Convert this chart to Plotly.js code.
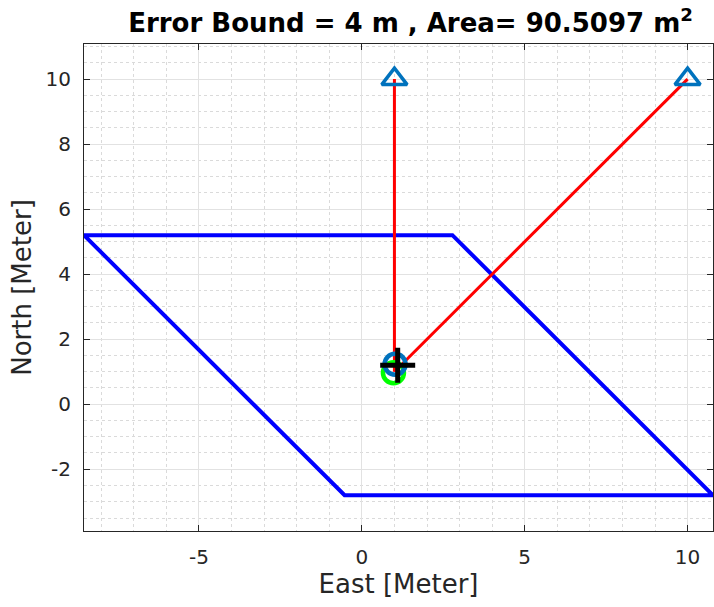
<!DOCTYPE html>
<html>
<head>
<meta charset="utf-8">
<script src="https://cdn.plot.ly/plotly-3.0.1.min.js"></script>
<style>html,body{margin:0;padding:0;background:#fff;}#chart{width:714px;height:607px;}</style>
</head>
<body>
<div id="chart"></div>
<script>
// Data
const regionX = [-8.53, 2.78, 10.78, -0.53, -8.53];
const regionY = [5.2, 5.2, -2.8, -2.8, 5.2];
const anchorX = [1, 10];
const anchorY = [10, 10];
const trueX = [0.97];
const trueY = [0.97];
const estX = [1.02];
const estY = [1.23];
const centerX = [1.1];
const centerY = [1.2];
const rangeLine1X = [1, 1];
const rangeLine1Y = [10, 1];
const rangeLine2X = [10, 1];
const rangeLine2Y = [10, 1];
const xTicks = [-5, 0, 5, 10];
const yTicks = [-2, 0, 2, 4, 6, 8, 10];

const font = 'DejaVu Sans, Verdana, sans-serif';
const traces = [
  {x: regionX, y: regionY, mode: 'lines', line: {color: '#0000FF', width: 4}, hoverinfo: 'skip'},
  {x: rangeLine1X, y: rangeLine1Y, mode: 'lines', line: {color: '#FF0000', width: 3}},
  {x: rangeLine2X, y: rangeLine2Y, mode: 'lines', line: {color: '#FF0000', width: 3}},
  {x: anchorX, y: anchorY, mode: 'markers', marker: {symbol: 'triangle-up-open', size: 22, color: '#0072BD', line: {width: 3.5, color: '#0072BD'}}},
  {x: trueX, y: trueY, mode: 'markers', marker: {symbol: 'circle-open', size: 21, color: '#00FF00', line: {width: 4.5, color: '#00FF00'}}},
  {x: estX, y: estY, mode: 'markers', marker: {symbol: 'circle-open', size: 21, color: '#0072BD', line: {width: 4.5, color: '#0072BD'}}},
  {x: centerX, y: centerY, mode: 'markers', marker: {symbol: 'cross-thin-open', size: 25, color: '#000000', line: {width: 5, color: '#000000'}}}
];

const axisCommon = {
  showline: true, linecolor: '#262626', linewidth: 1, mirror: 'ticks',
  ticks: 'inside', ticklen: 6, tickcolor: '#262626',
  showgrid: true, gridcolor: '#E2E2E2', gridwidth: 1,
  zeroline: false,
  tickfont: {family: font, size: 20, color: '#262626'},
};

const layout = {
  width: 714, height: 607,
  margin: {l: 84, r: 1, t: 44, b: 76},
  paper_bgcolor: '#FFFFFF', plot_bgcolor: '#FFFFFF',
  showlegend: false,
  title: {text: '<b>Error Bound = 4 m , Area= 90.5097 m<sup>2</sup></b>', font: {family: font, size: 26, color: '#000000'}, x: 0.575, xanchor: 'center', y: 0.963, yanchor: 'middle'},
  xaxis: Object.assign({}, axisCommon, {
    range: [-8.53, 10.78], tickvals: xTicks, ticktext: xTicks.map(String),
    minor: {dtick: 1, tick0: 0, showgrid: true, gridcolor: '#DADADA', griddash: 'dot', gridwidth: 1, ticks: ''},
    title: {text: 'East [Meter]', font: {family: font, size: 26, color: '#262626'}, standoff: 6},
    ticklabelstandoff: 8
  }),
  yaxis: Object.assign({}, axisCommon, {
    range: [-3.9, 11.08], tickvals: yTicks, ticktext: yTicks.map(String),
    minor: {dtick: 0.5, tick0: 0, showgrid: true, gridcolor: '#DADADA', griddash: 'dot', gridwidth: 1, ticks: ''},
    title: {text: 'North [Meter]', font: {family: font, size: 26, color: '#262626'}, standoff: 6},
    ticklabelstandoff: 8
  })
};

Plotly.newPlot('chart', traces, layout, {displayModeBar: false, staticPlot: true});
</script>
</body>
</html>
